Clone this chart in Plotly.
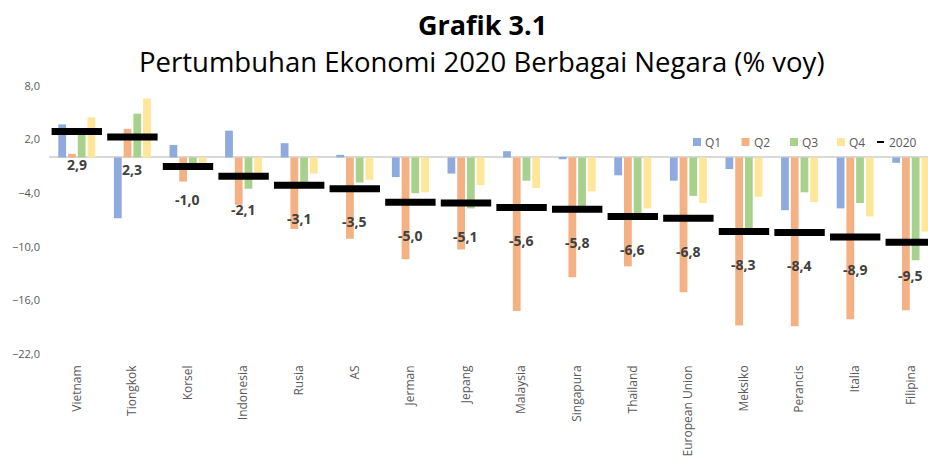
import plotly.graph_objects as go

categories = ["Vietnam", "Tiongkok", "Korsel", "Indonesia", "Rusia", "AS", "Jerman", "Jepang",
              "Malaysia", "Singapura", "Thailand", "European Union", "Meksiko", "Perancis",
              "Italia", "Filipina"]
q1 = [3.7, -6.8, 1.4, 3.0, 1.6, 0.3, -2.2, -1.8, 0.7, -0.2, -2.0, -2.6, -1.3, -5.9, -5.7, -0.6]
q2 = [0.4, 3.2, -2.7, -5.3, -8.0, -9.1, -11.4, -10.3, -17.2, -13.4, -12.2, -15.1, -18.8, -18.9, -18.1, -17.1]
q3 = [2.6, 4.9, -1.1, -3.5, -3.4, -2.8, -4.0, -5.7, -2.6, -5.6, -6.4, -4.3, -8.6, -3.9, -5.1, -11.5]
q4 = [4.5, 6.6, -1.2, -2.2, -1.8, -2.5, -3.9, -3.1, -3.4, -3.8, -5.7, -5.1, -4.4, -5.0, -6.6, -8.3]
annual = [2.9, 2.3, -1.0, -2.1, -3.1, -3.5, -5.0, -5.1, -5.6, -5.8, -6.6, -6.8, -8.3, -8.4, -8.9, -9.5]
series_names = ["Q1", "Q2", "Q3", "Q4"]
series_colors = ["#8FAADC", "#F4B183", "#A9D18E", "#FFE699"]
annual_name = "2020"
y_ticks = [8, 2, -4, -10, -16, -22]

FONT = "Open Sans"
GRAY = "#595959"
W, H = 928, 461
ML, MR, MT, MB = 49, 0, 86, 107
PW, PH = W - ML - MR, H - MT - MB


def px_x(p):
    return (p - ML) / PW


def px_y(p):
    return (H - MB - p) / PH


fig = go.Figure()
for name, vals, col in zip(series_names, [q1, q2, q3, q4], series_colors):
    fig.add_trace(go.Bar(x=categories, y=vals, name=name, marker=dict(color=col, line_width=0)))

fig.add_trace(go.Scatter(
    x=categories, y=annual, name=annual_name, mode="markers",
    marker=dict(symbol="line-ew", size=36, color="black", line=dict(color="black", width=7)),
))

for c, v in zip(categories, annual):
    fig.add_annotation(x=c, y=v, yshift=-33, text=f"{v:.1f}".replace(".", ","), showarrow=False,
                       font=dict(family=FONT, size=14, color="#404040", weight="bold"))

# Titles
fig.add_annotation(xref="paper", yref="paper", x=px_x(482), xanchor="center", y=px_y(25), yanchor="middle",
                   text="<b>Grafik 3.1</b>", showarrow=False,
                   font=dict(family=FONT, size=27, color="black"))
fig.add_annotation(xref="paper", yref="paper", x=px_x(482), xanchor="center", y=px_y(62), yanchor="middle",
                   text="Pertumbuhan Ekonomi 2020 Berbagai Negara (% voy)", showarrow=False,
                   font=dict(family=FONT, size=27.5, color="black"))

# Compact legend (Excel style): small squares + labels
leg_y = 142
sq_x = [693, 741.5, 790, 837]
for name, col, sx in zip(series_names, series_colors, sq_x):
    fig.add_shape(type="rect", xref="paper", yref="paper",
                  x0=px_x(sx), x1=px_x(sx + 8), y0=px_y(leg_y + 4), y1=px_y(leg_y - 4),
                  fillcolor=col, line_width=0)
    fig.add_annotation(xref="paper", yref="paper", x=px_x(sx + 10), xanchor="left", y=px_y(leg_y),
                       yanchor="middle", text=name, showarrow=False,
                       font=dict(family=FONT, size=12, color=GRAY))
fig.add_shape(type="line", xref="paper", yref="paper", x0=px_x(877), x1=px_x(884),
              y0=px_y(leg_y), y1=px_y(leg_y), line=dict(color="black", width=2))
fig.add_annotation(xref="paper", yref="paper", x=px_x(887), xanchor="left", y=px_y(leg_y),
                   yanchor="middle", text=annual_name, showarrow=False,
                   font=dict(family=FONT, size=12, color=GRAY))

fig.update_layout(
    width=W, height=H,
    margin=dict(l=ML, r=MR, t=MT, b=MB, autoexpand=False),
    paper_bgcolor="white", plot_bgcolor="white",
    barmode="group", bargap=0.3, bargroupgap=0.2,
    separators=",.",
    font=dict(family=FONT, color=GRAY),
    showlegend=False,
    xaxis=dict(range=[-0.5, 15.31], tickangle=-90, showgrid=False, showline=False, ticks="",
               tickfont=dict(size=12, color=GRAY), zeroline=False, automargin=False,
               ticklabelstandoff=8),
    yaxis=dict(range=[-22, 8], tickvals=y_ticks, tickformat=".1f", showgrid=False,
               zeroline=True, zerolinecolor="#D9D9D9", zerolinewidth=2, showline=False,
               ticks="", tickfont=dict(size=11, color=GRAY), ticklabelstandoff=8, automargin=False),
)

fig.write_html("out.html", config={"displayModeBar": False},
               post_script="document.body.style.margin='0';document.body.style.overflow='hidden';")
